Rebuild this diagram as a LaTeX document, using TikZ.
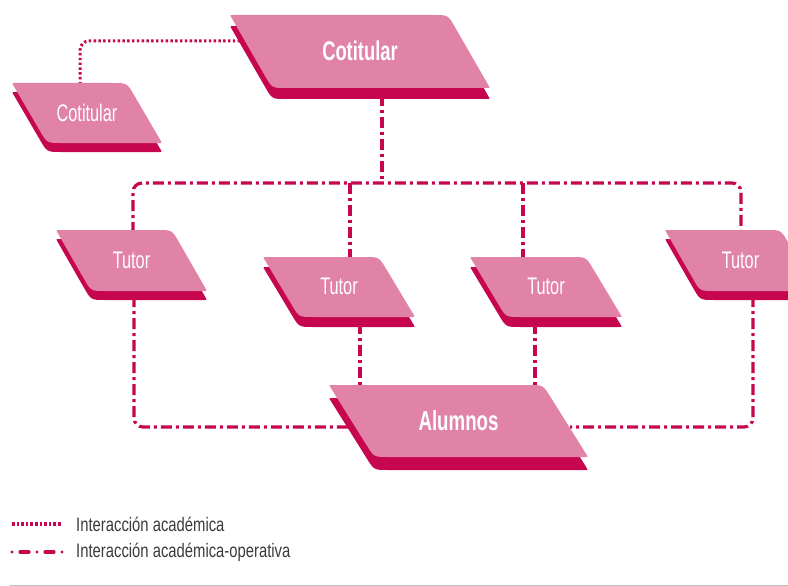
\documentclass[tikz,border=0pt]{standalone}
\usepackage{fontspec}
\setmainfont{Liberation Sans}[FakeStretch=0.68]
\newfontfamily\legfont{Liberation Sans}[FakeStretch=0.76]
\usetikzlibrary{calc}
\definecolor{plight}{HTML}{E083A7}
\definecolor{pdark}{HTML}{C6074F}
\definecolor{legtext}{HTML}{3A3A3A}
\tikzset{
  lbl/.style={text=white,inner sep=0pt,anchor=center},
  dotline/.style={draw=pdark,line width=3pt,dash pattern=on 2.4pt off 2.4pt},
  ddline/.style={draw=pdark,line width=3.2pt,dash pattern=on 11pt off 4pt on 3pt off 4pt,rounded corners=9pt},
  legtxt/.style={anchor=west,inner sep=0pt,text=legtext,font=\legfont\fontsize{19.5}{19.5}\selectfont},
}
\newcommand\parafill[2]{\fill[#2] ($(#1-tl)!3pt!(#1-bl)$) .. controls (#1-tl) .. ($(#1-tl)!3pt!(#1-tr)$) -- ($(#1-tr)!14pt!(#1-tl)$) .. controls (#1-tr) .. ($(#1-tr)!14pt!(#1-br)$) -- ($(#1-br)!3pt!(#1-tr)$) .. controls (#1-br) .. ($(#1-br)!3pt!(#1-bl)$) -- ($(#1-bl)!14pt!(#1-br)$) .. controls (#1-bl) .. ($(#1-bl)!14pt!(#1-tl)$) -- cycle;}
% #1 name, #2 x0, #3 y0, #4 w, #5 h, #6 s, #7 d, #8 font, #9 text
\newcommand\para[9]{%
  \coordinate (#1-tl) at (#2,#3);
  \coordinate (#1-tr) at ({#2+#4},#3);
  \coordinate (#1-br) at ({#2+#4+#6},{#3+#5});
  \coordinate (#1-bl) at ({#2+#6},{#3+#5});
  \begin{scope}[transform canvas={yshift=-#7pt}]
    \parafill{#1}{pdark}
  \end{scope}
  \parafill{#1}{plight}
  \node[lbl,font=#8] (#1) at ({#2+(#4+#6)/2},{#3+#5/2-0.5}) {#9};
}
\begin{document}
\begin{tikzpicture}[x=1pt,y=-1pt]
\useasboundingbox (0,0) rectangle (788,586);
% connector end coordinates
\coordinate (cotA-w) at (240,41);
\coordinate (cotB-n) at (80,86);
\coordinate (cotA-s) at (382,95);
\coordinate (bus) at (382,183);
\coordinate (t1-n) at (133,233);
\coordinate (t4-n) at (741,233);
\coordinate (t2-n) at (350,260);
\coordinate (t3-n) at (523,260);
\coordinate (t1-s) at (134,296);
\coordinate (t4-s) at (753,296);
\coordinate (t2-s) at (360,323);
\coordinate (t3-s) at (535,323);
\coordinate (alu-n1) at (360,388);
\coordinate (alu-n2) at (535,388);
\coordinate (alu-w) at (350,427);
\coordinate (alu-e) at (570,427);
% connectors
\draw[dotline,rounded corners=9pt] (cotA-w) -| (cotB-n);
\draw[ddline] (cotA-s) -- (bus);
\draw[ddline] (t1-n) |- (bus) -| (t4-n);
\draw[ddline] (t2-n |- bus) -- (t2-n);
\draw[ddline] (t3-n |- bus) -- (t3-n);
\draw[ddline] (t1-s) |- (alu-w);
\draw[ddline] (t4-s) |- (alu-e);
\draw[ddline] (t2-s) -- (alu-n1);
\draw[ddline] (t3-s) -- (alu-n2);
% shapes
\para{cotA}{230}{15}{218}{73}{42}{11}{\bfseries\fontsize{27}{27}\selectfont}{Cotitular}
\para{cotB}{12}{83}{115}{60}{35}{9}{\fontsize{24}{24}\selectfont}{Cotitular}
\para{t1}{56}{230}{116}{61}{35}{9}{\fontsize{24}{24}\selectfont}{Tutor}
\para{t2}{263}{257}{116}{60}{36}{10}{\fontsize{24}{24}\selectfont}{Tutor}
\para{t3}{470}{257}{116}{60}{36}{10}{\fontsize{24}{24}\selectfont}{Tutor}
\para{t4}{665}{230}{116}{61}{35}{9}{\fontsize{24}{24}\selectfont}{Tutor}
\para{alu}{329}{385}{214}{72}{45}{13}{\bfseries\fontsize{27.5}{27.5}\selectfont}{Alumnos}
% legend
\coordinate (l1a) at (12,524);
\coordinate (l1b) at (62,524);
\coordinate (l2a) at (12,552);
\coordinate (l2b) at (62.5,552);
\draw[draw=pdark,line width=3.2pt,dash pattern=on 2.6pt off 2pt] (l1a) -- (l1b);
\draw[draw=pdark,line width=3.2pt,line cap=round,dash pattern=on 0pt off 8pt on 9pt off 8pt] (l2a) -- (l2b);
\node[legtxt] (leg1) at (76,524) {Interacción académica};
\node[legtxt] (leg2) at (76,552) {Interacción académica-operativa};
\coordinate (rule-a) at (10,585);
\coordinate (rule-b) at (788,585);
\draw[draw=black!25,line width=1pt] (rule-a) -- (rule-b);
\end{tikzpicture}
\end{document}
